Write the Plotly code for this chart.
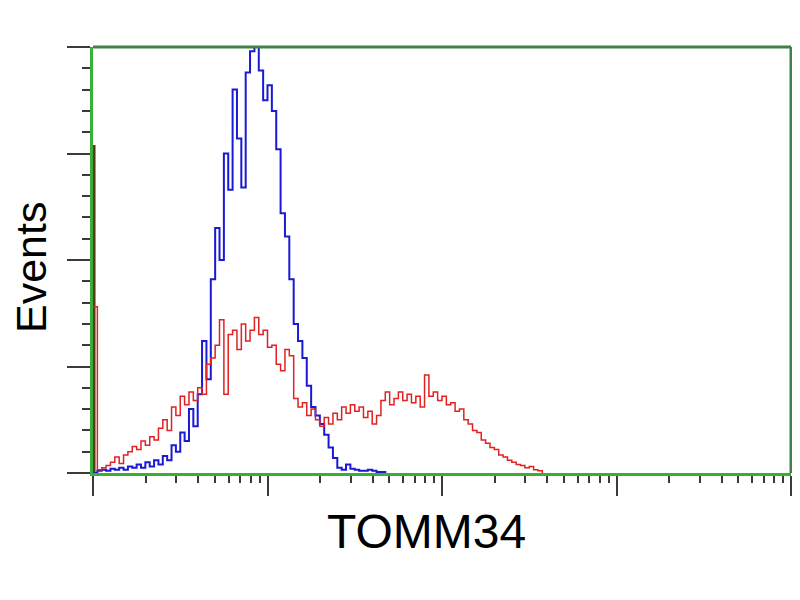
import numpy as np
import plotly.graph_objects as go

# Histogram bins (log decades, bin width 0.025 decade)
bin_width = 0.025

blue_counts = [0, 1, 1.5, 1, 2, 1.5, 2.5, 1.5, 3, 2.5, 4, 2.5, 5, 3, 6, 4, 8, 6, 13, 10,
               19, 15, 30, 22, 37, 62, 44, 91, 115, 100, 150, 133, 180, 157, 134, 188, 198, 200, 189, 175,
               182, 170, 152, 122, 111, 91, 70, 62, 54, 41, 31, 27, 23, 18, 12, 7, 2.5, 1.5, 4, 2,
               1.5, 1, 1, 1.5, 1, 0.5, 0.5, 0]

red_counts = [78, 1.5, 2.5, 3.5, 5, 7.5, 4.5, 8.5, 10, 12.5, 11, 15, 13, 17, 15.5, 21, 25, 20, 31, 27,
              36, 32, 38, 34, 40, 37, 51, 54, 60, 72, 37, 65, 67, 58, 70, 62, 67, 73, 65, 67,
              59, 60, 51, 48, 58, 55, 35, 31, 33, 27, 30, 25, 22, 26, 23, 28, 25, 31, 28, 32,
              29, 31, 26, 29, 23, 27, 34, 38, 32, 35, 38, 34, 37, 33, 36, 31, 46, 36, 38, 34,
              36, 32, 33, 29, 30, 25, 23, 20, 19, 15.5, 14, 12, 11, 8.5, 7.5, 6, 5, 4, 3.5, 2.5,
              3, 1.5, 1, 0]

first_channel_count = 154  # dark spike at the first channel

x_major = [0, 1, 2, 3, 4]
x_minor = [d + np.log10(k) for d in range(4) for k in range(2, 10)]
y_major = [0, 50, 100, 150, 200]
y_minor = list(range(10, 200, 10))

blue_x = [i * bin_width for i in range(len(blue_counts))]
red_x = [i * bin_width for i in range(len(red_counts))]

fig = go.Figure()
fig.add_trace(go.Scatter(x=[0.006, 0.006], y=[0, first_channel_count], mode="lines",
                         line=dict(color="#5a3a1c", width=3), showlegend=False))
fig.add_trace(go.Scatter(x=blue_x, y=blue_counts, mode="lines", line_shape="hv",
                         line=dict(color="#1a1ad6", width=2), showlegend=False))
fig.add_trace(go.Scatter(x=red_x, y=red_counts, mode="lines", line_shape="hv",
                         line=dict(color="#e02222", width=1.5), showlegend=False))

fig.update_layout(
    width=800, height=600,
    margin=dict(l=85, r=17, t=39, b=135),
    paper_bgcolor="white", plot_bgcolor="white",
    xaxis=dict(range=[0, 4], showgrid=False, zeroline=False, showline=True,
               linecolor="#38b038", linewidth=2.5,
               tickmode="array", tickvals=x_major, showticklabels=False,
               ticks="outside", ticklen=20, tickwidth=2, tickcolor="#3a3a3a",
               minor=dict(tickmode="array", tickvals=x_minor, ticks="outside",
                          ticklen=7, tickwidth=2, tickcolor="#3a3a3a")),
    yaxis=dict(range=[0, 200], showgrid=False, zeroline=False, showline=True,
               linecolor="#38b038", linewidth=2.5,
               tickmode="array", tickvals=y_major, showticklabels=False,
               ticks="outside", ticklen=23, tickwidth=2, tickcolor="#3a3a3a",
               minor=dict(tickmode="array", tickvals=y_minor, ticks="outside",
                          ticklen=8, tickwidth=2, tickcolor="#3a3a3a")),
    shapes=[
        dict(type="line", xref="paper", yref="paper", x0=0, x1=1, y0=1, y1=1,
             line=dict(color="#3f8146", width=3)),
        dict(type="line", xref="paper", yref="paper", x0=1, x1=1, y0=0, y1=1,
             line=dict(color="#3f8146", width=3)),
    ],
    annotations=[
        dict(text="Events", xref="paper", yref="paper", x=0, y=0.5, xanchor="center",
             yanchor="middle", xshift=-62, yshift=-8, textangle=-90, showarrow=False,
             font=dict(family="Liberation Sans", size=43, color="black")),
        dict(text="TOMM34", xref="paper", yref="paper", x=0.4785, y=0, xanchor="center",
             yanchor="middle", yshift=-58, showarrow=False,
             font=dict(family="Liberation Sans", size=48, color="black")),
    ],
)

fig.write_html("out.html")
